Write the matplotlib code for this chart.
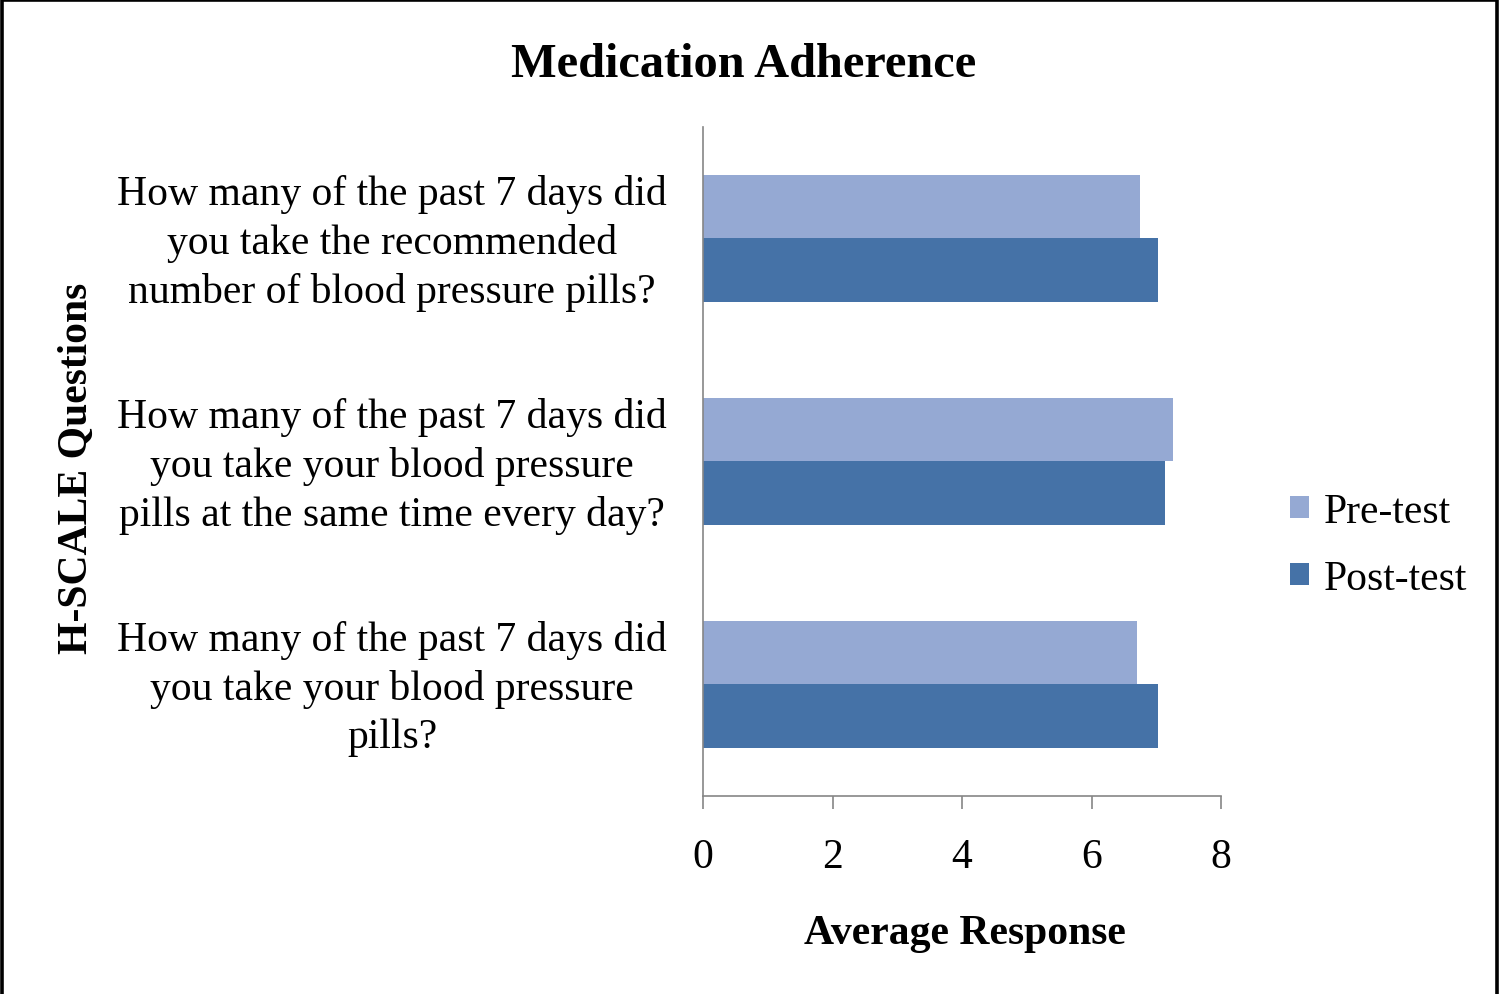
import numpy as np
import matplotlib
matplotlib.use('Agg')
import matplotlib.pyplot as plt
from matplotlib.patches import Patch, Rectangle

# Data (questions listed top to bottom as in the chart)
questions = [
    "How many of the past 7 days did\nyou take the recommended\nnumber of blood pressure pills?",
    "How many of the past 7 days did\nyou take your blood pressure\npills at the same time every day?",
    "How many of the past 7 days did\nyou take your blood pressure\npills?",
]
pre_test = [6.75, 7.26, 6.70]
post_test = [7.03, 7.14, 7.03]
x_ticks = [0, 2, 4, 6, 8]

pre_color = "#95A9D3"
post_color = "#4572A7"
axis_color = "#868686"

plt.rcParams['font.family'] = ['Liberation Serif', 'DejaVu Serif']

fig = plt.figure(figsize=(15, 9.95), dpi=100)
ax = fig.add_axes([0.4687, 0.199, 0.3453, 0.6724])

n = len(questions)
ypos = np.arange(n)[::-1]  # first question on top
h = 0.285
ax.barh(ypos + h / 2, pre_test, height=h, color=pre_color, label="Pre-test")
ax.barh(ypos - h / 2, post_test, height=h, color=post_color, label="Post-test")

ax.set_xlim(0, 8)
ax.set_ylim(-0.5, n - 0.5)
ax.set_xticks(x_ticks)
ax.set_xticklabels([str(t) for t in x_ticks])
ax.set_yticks(ypos + 0.025)
ax.set_yticklabels(questions, multialignment="center", fontsize=30, linespacing=1.33)

ax.tick_params(axis='x', length=9, width=1.2, color=axis_color, labelsize=30, pad=21)
ax.tick_params(axis='y', length=0, pad=26)

for side in ["top", "right"]:
    ax.spines[side].set_visible(False)
for side in ["left", "bottom"]:
    ax.spines[side].set_color(axis_color)
    ax.spines[side].set_linewidth(1.2)

# Titles and axis labels
fig.text(0.4955, 0.935, "Medication Adherence", fontsize=34.8, fontweight="bold",
         ha="center", va="center")
fig.text(0.643, 0.0615, "Average Response", fontsize=30, fontweight="bold",
         ha="center", va="center")
fig.text(0.0515, 0.5296, "H-SCALE Questions", fontsize=30, fontweight="bold",
         ha="center", va="center", rotation=90)

# Legend on the right
handles = [Patch(facecolor=pre_color, label="Pre-test"),
           Patch(facecolor=post_color, label="Post-test")]
fig.legend(handles=handles, loc="center left", bbox_to_anchor=(0.86, 0.4513),
           frameon=False, fontsize=30, handlelength=0.45, handleheight=0.45,
           handletextpad=0.36, labelspacing=0.69, borderpad=0, borderaxespad=0)

# Outer frame
fig.patches.append(Rectangle((0.0015, -0.01), 0.9965, 1.0085, transform=fig.transFigure,
                             fill=False, edgecolor="black", linewidth=2.6))

fig.savefig("out.png", dpi=100, facecolor="white")
